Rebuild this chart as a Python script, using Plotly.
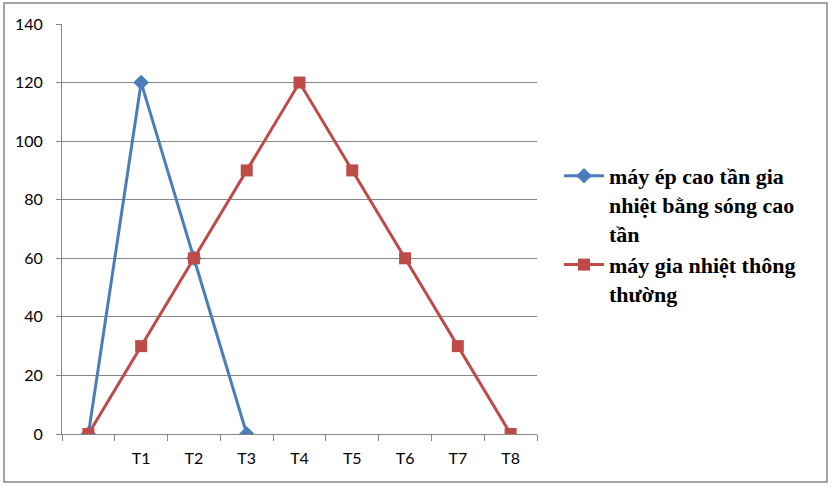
import plotly.graph_objects as go

categories = ["", "T1", "T2", "T3", "T4", "T5", "T6", "T7", "T8"]
series_blue_name = "máy ép cao tần gia<br>nhiệt bằng sóng cao<br>tần"
series_red_name = "máy gia nhiệt thông<br>thường"
blue_values = [0, 120, 60, 0]
red_values = [0, 30, 60, 90, 120, 90, 60, 30, 0]
y_ticks = [0, 20, 40, 60, 80, 100, 120, 140]

W, H = 832, 487
L, R, T, B = 62, 537, 24, 434

fig = go.Figure()
fig.add_trace(go.Scatter(
    x=list(range(len(blue_values))), y=blue_values, name=series_blue_name,
    mode="lines+markers",
    line=dict(color="#4A7EBB", width=3),
    marker=dict(symbol="diamond", size=12, color="#4A7EBB"),
))
fig.add_trace(go.Scatter(
    x=list(range(len(red_values))), y=red_values, name=series_red_name,
    mode="lines+markers",
    line=dict(color="#BE4B48", width=3),
    marker=dict(symbol="square", size=12, color="#BE4B48"),
))

def px_x(p):
    return (p - L) / (R - L)

def px_y(p):
    return (B - p) / (B - T)

fig.update_layout(
    width=W, height=H,
    margin=dict(l=L, r=W - R, t=T, b=H - B, autoexpand=False),
    paper_bgcolor="white", plot_bgcolor="white",
    font=dict(family="Lato, Liberation Sans, sans-serif", size=16, color="black"),
    xaxis=dict(
        range=[-0.5, len(categories) - 0.5],
        tickvals=list(range(len(categories))), ticktext=categories,
        ticks="outside", ticklen=10, tickcolor="rgba(0,0,0,0)",
        showgrid=False, zeroline=False,
        showline=True, linecolor="#868686", linewidth=1,
        minor=dict(tickvals=[i - 0.5 for i in range(len(categories) + 1)],
                   ticks="outside", ticklen=6, tickcolor="#868686", tickwidth=1, showgrid=False),
    ),
    yaxis=dict(
        range=[0, 140], tickvals=y_ticks,
        ticks="outside", ticklen=5, tickcolor="#868686",
        showgrid=True, gridcolor="#868686", gridwidth=1,
        zeroline=False, showline=True, linecolor="#868686", linewidth=1,
        ticklabelstandoff=10,
    ),
    legend=dict(
        x=px_x(559), xanchor="left", y=px_y(155), yanchor="top",
        valign="top", tracegroupgap=0, itemwidth=40,
        font=dict(family="Liberation Serif, Times New Roman, serif", size=22, weight="bold", color="black"),
        bgcolor="rgba(0,0,0,0)",
    ),
    showlegend=True,
    shapes=[dict(type="rect", xref="paper", yref="paper",
                 x0=px_x(4), x1=px_x(827), y0=px_y(482), y1=px_y(3),
                 line=dict(color="#868686", width=1.5), layer="below")],
)

fig.write_html("out.html", config={"displayModeBar": False},
               post_script="document.body.style.margin='0';")
